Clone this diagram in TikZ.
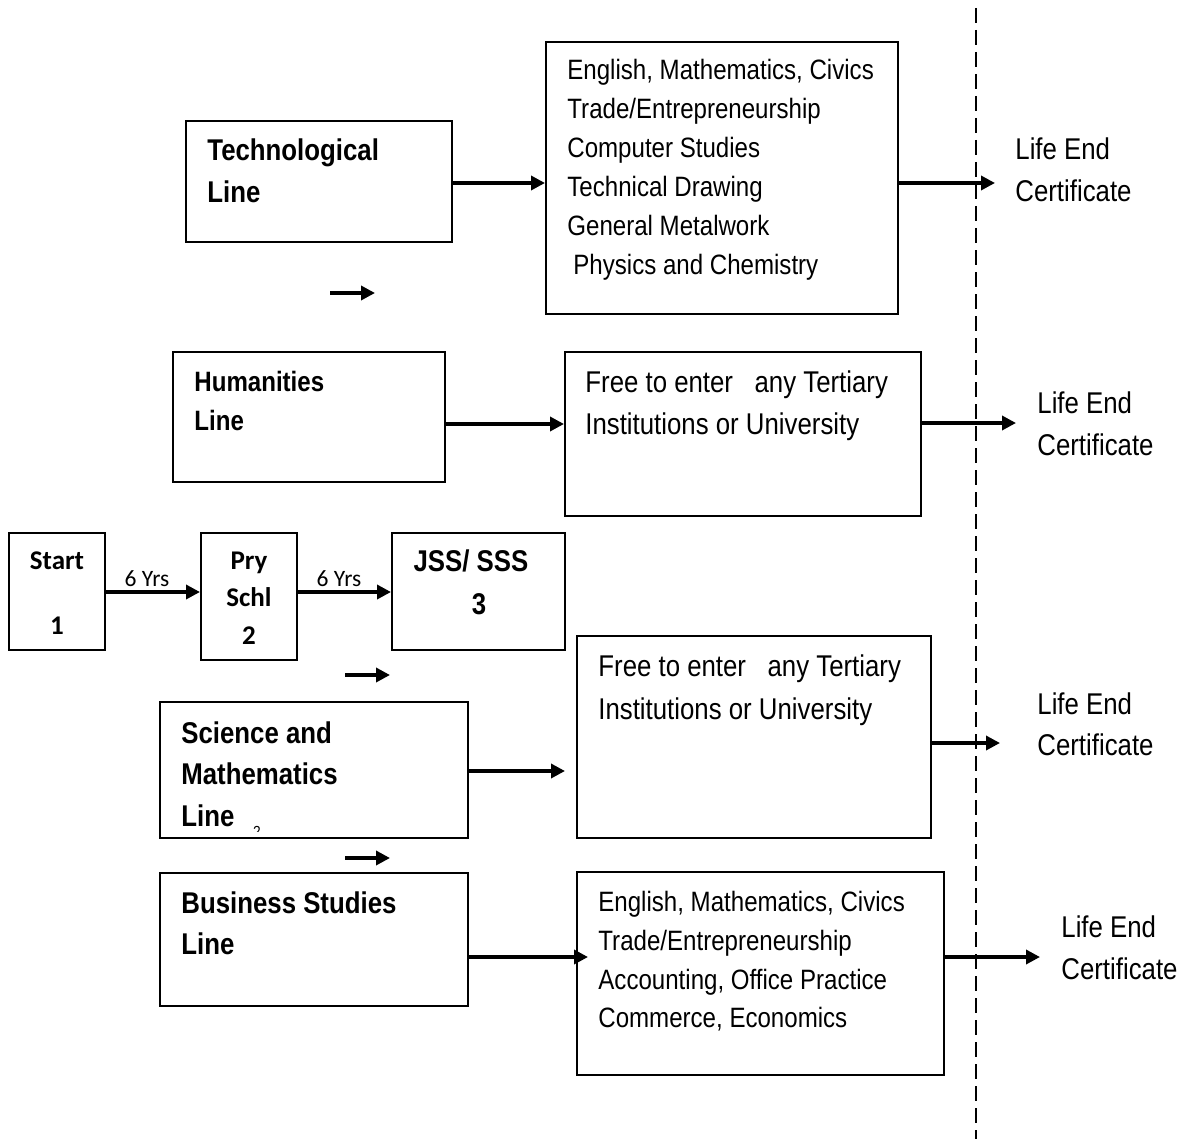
\documentclass[tikz,border=0pt]{standalone}
\usepackage{fontspec}
\newfontfamily\nar[FakeStretch=0.86]{Liberation Sans}
\newfontfamily\narb[FakeStretch=0.86]{Liberation Sans Bold}
\newfontfamily\calfont{Carlito}
\usetikzlibrary{arrows.meta}
\begin{document}
\begin{tikzpicture}[x=0.5pt,y=-0.5pt,
  box/.style={draw, line width=1pt, inner sep=0pt},
  arr/.style={line width=1.7pt, -{Triangle[length=7pt,width=7pt]}},
  tx/.style={anchor=base west, inner sep=0pt, font=\nar\fontsize{15}{18}\selectfont},
  sub/.style={anchor=base west, inner sep=0pt, font=\nar\fontsize{14}{17}\selectfont},
  hd/.style={anchor=base west, inner sep=0pt, font=\narb\fontsize{15}{18}\selectfont},
  hds/.style={anchor=base west, inner sep=0pt, font=\narb\fontsize{14}{17}\selectfont},
  cb/.style={anchor=base, inner sep=0pt, font=\calfont\bfseries\fontsize{13.5}{16}\selectfont},
  yrs/.style={anchor=base, inner sep=0pt, font=\calfont\fontsize{11.75}{14}\selectfont},
  dash line/.style={line width=1.2pt, dash pattern=on 7.5pt off 3.5pt}
]
\useasboundingbox (0,0) rectangle (1182,1139);

% dashed divider
\coordinate (dtop) at (976,8);
\coordinate (dbot) at (976,1139);
\draw[dash line] (dtop) -- (dbot);

% boxes
\node[box, minimum width=133pt, minimum height=60.5pt] (tech) at (319,181.5) {};
\node[box, minimum width=176pt, minimum height=136pt] (subj1) at (722,178) {};
\node[box, minimum width=136pt, minimum height=65pt] (hum) at (309,417) {};
\node[box, minimum width=178pt, minimum height=82pt] (hfree) at (743,434) {};
\node[box, minimum width=48pt, minimum height=58.5pt] (start) at (57,591.5) {};
\node[box, minimum width=48pt, minimum height=63.5pt] (pry) at (249,596.5) {};
\node[box, minimum width=86.5pt, minimum height=58.5pt] (jss) at (478.5,591.5) {};
\node[box, minimum width=154pt, minimum height=68pt] (sci) at (314,770) {};
\node[box, minimum width=177pt, minimum height=101pt] (sfree) at (754,737) {};
\node[box, minimum width=154pt, minimum height=66.5pt] (bus) at (314,939.5) {};
\node[box, minimum width=183.5pt, minimum height=101.5pt] (bsub) at (760.5,973.5) {};

% technological line
\node[hd] (techA) at (207,160.5) {Technological};
\node[hd] (techB) at (207,202.5) {Line};
\node[sub] (s1a) at (567,80) {English, Mathematics, Civics};
\node[sub] (s1b) at (567,119) {Trade/Entrepreneurship};
\node[sub] (s1c) at (567,158) {Computer Studies};
\node[sub] (s1d) at (567,197) {Technical Drawing};
\node[sub] (s1e) at (567,235) {General Metalwork};
\node[sub] (s1f) at (573,274) {Physics and Chemistry};
\node[tx] (l1a) at (1015,159.5) {Life End};
\node[tx] (l1b) at (1015,201.5) {Certificate};

% humanities line
\node[hds] (humA) at (194,391) {Humanities};
\node[hds] (humB) at (194,430) {Line};
\node[tx] (h2a) at (585,392.5) {Free to enter \ \ any Tertiary};
\node[tx] (h2b) at (585,434.5) {Institutions or University};
\node[tx] (l2a) at (1037,413.5) {Life End};
\node[tx] (l2b) at (1037,455.5) {Certificate};

% start row
\node[cb] (stA) at (57,569.7) {Start};
\node[cb] (stB) at (57,634.7) {1};
\node[cb] (prA) at (249,569.7) {Pry};
\node[cb] (prB) at (249,606.7) {Schl};
\node[cb] (prC) at (249,644.7) {2};
\node[hd, anchor=base] (jsA) at (471,571.7) {JSS/ SSS};
\node[hd, anchor=base] (jsB) at (479,614.7) {3};
\node[yrs] (y1) at (147,586) {6 Yrs};
\node[yrs] (y2) at (339,586) {6 Yrs};

% science line
\node[hd] (scA) at (181,743.5) {Science and};
\node[hd] (scB) at (181,784.5) {Mathematics};
\node[hd] (scC) at (181,826.5) {Line};
\begin{scope}
  \clip (161,703) rectangle (467,831);
  \node[anchor=base, inner sep=0pt, font=\nar\fontsize{8}{9}\selectfont] (sc2) at (257,837.5) {2};
\end{scope}
\node[tx] (s3a) at (598,676.5) {Free to enter \ \ any Tertiary};
\node[tx] (s3b) at (598,719.5) {Institutions or University};
\node[tx] (l3a) at (1037,714.5) {Life End};
\node[tx] (l3b) at (1037,755.5) {Certificate};

% business line
\node[hd] (buA) at (181,913.5) {Business Studies};
\node[hd] (buB) at (181,954.5) {Line};
\node[sub] (b4a) at (598,911) {English, Mathematics, Civics};
\node[sub] (b4b) at (598,950) {Trade/Entrepreneurship};
\node[sub] (b4c) at (598,989) {Accounting, Office Practice};
\node[sub] (b4d) at (598,1027) {Commerce, Economics};
\node[tx] (l4a) at (1061,937.5) {Life End};
\node[tx] (l4b) at (1061,979.5) {Certificate};

% free arrow ends
\coordinate (t1) at (995,183);
\coordinate (t2) at (1016,423);
\coordinate (t3) at (1000,743);
\coordinate (t4) at (1040,957);
\coordinate (sciTip) at (565,771);
\coordinate (busTip) at (588,957);
\coordinate (m1a) at (330,293); \coordinate (m1b) at (375,293);
\coordinate (m2a) at (345,675); \coordinate (m2b) at (390,675);
\coordinate (m3a) at (345,858); \coordinate (m3b) at (390,858);

% connectors
\draw[arr] (tech.east |- 0,183) -- (subj1.west |- 0,183);
\draw[arr] (subj1.east |- t1) -- (t1);
\draw[arr] (hum.east |- 0,424) -- (hfree.west |- 0,424);
\draw[arr] (hfree.east |- t2) -- (t2);
\draw[arr] (start.east |- 0,592) -- (pry.west |- 0,592);
\draw[arr] (pry.east |- 0,592) -- (jss.west |- 0,592);
\draw[arr] (sci.east |- sciTip) -- (sciTip);
\draw[arr] (sfree.east |- t3) -- (t3);
\draw[arr] (bus.east |- busTip) -- (busTip);
\draw[arr] (bsub.east |- t4) -- (t4);
\draw[arr] (m1a) -- (m1b);
\draw[arr] (m2a) -- (m2b);
\draw[arr] (m3a) -- (m3b);
\end{tikzpicture}
\end{document}
